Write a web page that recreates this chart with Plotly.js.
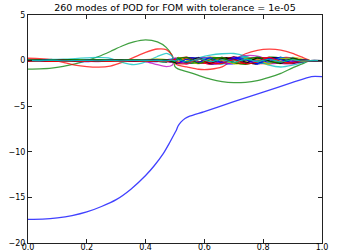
<!DOCTYPE html>
<html>
<head>
<meta charset="utf-8">
<script src="https://cdn.plot.ly/plotly-3.0.1.min.js"></script>
<style>html,body{margin:0;padding:0;background:#fff;}#chart{width:340px;height:252px;}</style>
</head>
<body>
<div id="chart"></div>
<script>
// x positions of the sampled mode shapes
var X = [0,0.04,0.08,0.12,0.16,0.2,0.24,0.28,0.32,0.36,0.4,0.44,0.47,0.49,0.5,0.51,0.54,0.58,0.62,0.66,0.7,0.74,0.78,0.82,0.86,0.9,0.93,0.96,1.0];

// mode 1 (own x grid)
var X1 = [0,0.05,0.1,0.15,0.2,0.25,0.3,0.35,0.4,0.43,0.46,0.48,0.5,0.505,0.51,0.52,0.534,0.55,0.6,0.7,0.8,0.9,0.964,1.0];
var mode1 = [-17.4,-17.38,-17.25,-17.0,-16.6,-16.0,-15.25,-14.1,-12.6,-11.5,-10.2,-9.1,-7.9,-7.6,-7.2,-6.75,-6.35,-6.1,-5.6,-4.5,-3.45,-2.4,-1.75,-1.75];

var mode2 = [-0.93,-0.9,-0.82,-0.63,-0.36,0.0,0.45,1.0,1.6,2.05,2.27,2.05,1.45,0.55,-0.66,-0.9,-1.2,-1.62,-2.02,-2.3,-2.42,-2.38,-2.2,-1.85,-1.4,-0.8,-0.4,0,0];
var mode3 = [0.26,0.22,0.12,-0.2,-0.5,-0.66,-0.72,-0.6,-0.2,0.35,0.9,1.27,1.2,0.6,-0.3,-0.5,-0.7,-0.95,-0.95,-0.7,0.1,0.75,1.12,1.25,1.15,0.8,0.4,0,0];
var mode4 = [0.1,0.1,0.12,0.15,0.22,0.3,0.35,0.25,-0.2,-0.45,-0.15,0.45,0.8,0.5,-0.2,-0.3,-0.1,0.3,0.6,0.75,0.78,0.5,0.0,-0.5,-0.7,-0.5,-0.25,0,0];
var mode5 = [0.0,0.05,0.1,0.1,0.05,-0.05,-0.1,0.0,0.1,0.1,-0.1,-0.45,-0.65,-0.5,0.1,0.3,0.25,-0.1,-0.4,-0.3,0.2,0.55,0.5,0.1,-0.3,-0.35,-0.15,0,0];
var mode6 = [-0.05,-0.08,-0.05,0.02,0.08,0.1,0.05,-0.05,-0.1,-0.05,0.1,0.2,0.1,-0.15,0.1,-0.2,-0.3,0.1,0.4,0.15,-0.3,-0.35,-0.2,-0.4,-0.05,0.35,0.2,0,0];
var mode7 = [0.05,0.02,-0.05,-0.08,-0.03,0.06,0.08,0.0,-0.08,-0.06,0.05,0.1,-0.05,-0.2,0.15,0.3,0.1,-0.3,-0.1,0.3,0.25,-0.2,-0.35,0.1,0.35,0.05,-0.15,0,0];
var mode8 = [0,0.06,0.1,0.04,-0.08,-0.12,-0.04,0.08,0.12,0.03,-0.1,-0.12,0.08,0.18,-0.1,-0.25,-0.1,0.3,0.15,-0.28,-0.35,0.08,0.4,0.15,-0.3,-0.2,0.08,0,0];
var mode9 = [-0.04,-0.1,-0.02,0.08,0.1,0.0,-0.1,-0.08,0.04,0.1,0.04,-0.08,-0.18,0.12,0.2,0.22,-0.28,-0.18,0.3,0.28,-0.18,-0.42,-0.08,0.38,0.28,-0.22,-0.08,0,0];
var mode10 = [0.08,0.03,-0.06,-0.09,0.0,0.09,0.04,-0.07,-0.08,0.05,0.1,-0.02,-0.15,0.1,-0.2,0.2,0.4,-0.1,-0.38,0.05,0.42,0.1,-0.3,-0.25,0.3,0.3,0.05,0,0];
var mode11 = [-0.06,0.04,0.08,-0.02,-0.09,0.02,0.1,0.0,-0.1,0.02,0.12,-0.05,-0.15,0.15,0.25,-0.35,-0.15,0.35,-0.05,-0.4,0.2,0.45,-0.1,-0.35,0.1,0.3,-0.1,0,0];
var mode12 = [0.03,-0.07,0.02,0.09,-0.03,-0.1,0.02,0.1,-0.02,-0.1,0.04,0.12,-0.1,-0.2,0.3,0.1,-0.4,0.15,0.35,-0.25,-0.3,0.3,0.3,-0.3,-0.25,0.2,0.05,0,0];
var mode13 = [-0.02,0.06,-0.05,-0.04,0.08,0.0,-0.08,0.05,0.06,-0.07,-0.04,0.1,0.05,-0.12,-0.3,0.35,0.05,-0.35,0.2,0.3,-0.35,-0.1,0.38,0.0,-0.35,0.15,0.1,0,0];
var mode14 = [0.04,-0.03,-0.06,0.05,0.05,-0.06,-0.04,0.07,0.02,-0.08,0.0,0.08,-0.12,0.1,-0.25,-0.3,0.3,0.2,-0.35,-0.1,0.4,-0.15,-0.35,0.3,0.2,-0.3,-0.05,0,0];
var mode15 = [-0.03,0.05,0.04,-0.06,-0.03,0.07,0.02,-0.08,0.0,0.08,-0.02,-0.09,0.12,-0.1,0.2,-0.35,0.25,0.25,-0.3,-0.2,0.35,0.2,-0.4,0.05,0.35,-0.1,-0.1,0,0];
var mode16 = [0.02,-0.05,0.06,0.02,-0.07,0.04,0.05,-0.06,0.03,0.06,-0.08,0.02,0.1,-0.15,-0.15,0.3,-0.2,-0.2,0.25,0.25,-0.3,-0.25,0.3,0.2,-0.25,-0.2,0.08,0,0];
var mode17 = [-0.05,0.03,-0.04,0.05,-0.02,-0.05,0.06,-0.03,-0.05,0.06,0.03,-0.07,0.06,0.12,0.1,-0.2,0.3,-0.25,-0.1,0.35,-0.15,-0.3,0.2,0.3,-0.2,-0.25,0.1,0,0];
var mode18 = [0.03,-0.04,0.05,-0.03,0.04,-0.05,0.03,0.04,-0.06,0.02,0.05,-0.06,-0.05,0.1,-0.1,0.25,-0.3,0.1,0.3,-0.3,0.0,0.35,-0.25,-0.2,0.3,0.1,-0.1,0,0];
var mode19 = [-0.02,0.04,-0.03,0.04,-0.05,0.03,-0.02,0.05,-0.04,-0.03,0.06,-0.03,0.08,-0.08,0.2,-0.15,-0.25,0.3,-0.2,-0.15,0.3,-0.3,0.1,0.3,-0.3,-0.05,0.1,0,0];
var mode20 = [0.02,-0.03,0.04,-0.04,0.03,-0.02,0.04,-0.05,0.03,0.03,-0.06,0.04,-0.06,0.06,0.15,-0.1,0.2,-0.3,0.25,0.05,-0.3,0.25,0.15,-0.35,0.2,0.15,-0.1,0,0];
var mode21 = [-0.03,0.02,-0.04,0.03,-0.03,0.04,-0.05,0.03,0.02,-0.05,0.04,-0.04,0.05,-0.1,-0.2,0.15,-0.2,0.3,-0.3,0.2,0.15,-0.3,0.3,-0.05,-0.3,0.25,0.05,0,0];
var mode22 = [0.01,-0.03,0.02,-0.02,0.04,-0.03,0.02,-0.03,0.04,-0.02,-0.03,0.05,-0.04,0.08,0.1,-0.25,0.15,-0.2,0.3,-0.25,0.2,0.1,-0.3,0.25,0.1,-0.25,0.05,0,0];
var mode23 = [0.06,0.08,0.05,0.07,0.09,0.06,0.08,0.07,0.05,0.08,0.06,0.04,0.1,-0.05,-0.1,0.2,0.35,-0.3,0.1,0.35,-0.2,0.1,0.35,-0.1,-0.2,0.2,0.05,0,0];
var mode24 = [-0.07,-0.05,-0.08,-0.06,-0.04,-0.07,-0.05,-0.08,-0.06,-0.04,-0.07,-0.05,-0.1,0.05,0.15,-0.3,-0.35,0.2,-0.25,-0.3,0.1,-0.35,-0.15,0.35,-0.1,-0.25,-0.05,0,0];
var mode25 = [0.02,0.0,0.03,-0.02,0.01,0.03,-0.01,0.02,-0.02,0.03,0.0,0.02,-0.03,0.05,-0.05,0.1,-0.15,0.2,-0.1,0.1,-0.2,0.15,-0.1,0.15,-0.15,0.1,-0.05,0,0];

var xTicks = [0,0.2,0.4,0.6,0.8,1.0];
var xTickText = ["0.0","0.2","0.4","0.6","0.8","1.0"];
var yTicks = [-20,-15,-10,-5,0,5];
var titleText = "260 modes of POD for FOM with tolerance = 1e-05";

var colorCycle = ["#0000ff","#008000","#ff0000","#00bfbf","#bf00bf","#bfbf00","#000000"];
var modes = [mode2,mode3,mode4,mode5,mode6,mode7,mode8,mode9,mode10,mode11,mode12,mode13,mode14,mode15,mode16,mode17,mode18,mode19,mode20,mode21,mode22,mode23,mode24,mode25];

var traces = [{x: X1, y: mode1, type: "scatter", mode: "lines", opacity: 0.75,
  line: {color: colorCycle[0], width: 1.3, shape: "spline", smoothing: 0.5}, hoverinfo: "skip"}];
modes.forEach(function(m, i) {
  traces.push({x: X, y: m, type: "scatter", mode: "lines", opacity: i < 5 ? 0.75 : 0.9,
    line: {color: colorCycle[(i + 1) % 7], width: i < 5 ? 1.3 : 1.1, shape: "spline", smoothing: 0.6}, hoverinfo: "skip"});
});

var axisCommon = {
  showgrid: false, zeroline: false, showline: true, linecolor: "#222", linewidth: 1,
  mirror: "allticks", ticks: "inside", ticklen: 4, tickcolor: "#222", tickwidth: 1,
  tickfont: {family: "DejaVu Sans", size: 8, color: "#000"}
};

var layout = {
  width: 340, height: 252,
  margin: {l: 28, r: 18, t: 15, b: 9, pad: 0},
  paper_bgcolor: "#fff", plot_bgcolor: "#fff",
  showlegend: false,
  title: {text: titleText, x: 0.5, xref: "paper", xanchor: "center", y: 0.97, yref: "container", yanchor: "middle",
    font: {family: "DejaVu Sans", size: 9.5, color: "#000"}},
  xaxis: Object.assign({}, axisCommon, {range: [0, 1], tickvals: xTicks, ticktext: xTickText, ticklabelstandoff: -4}),
  yaxis: Object.assign({}, axisCommon, {range: [-20, 5], tickvals: yTicks})
};

Plotly.newPlot("chart", traces, layout, {displayModeBar: false, staticPlot: true});
</script>
</body>
</html>
